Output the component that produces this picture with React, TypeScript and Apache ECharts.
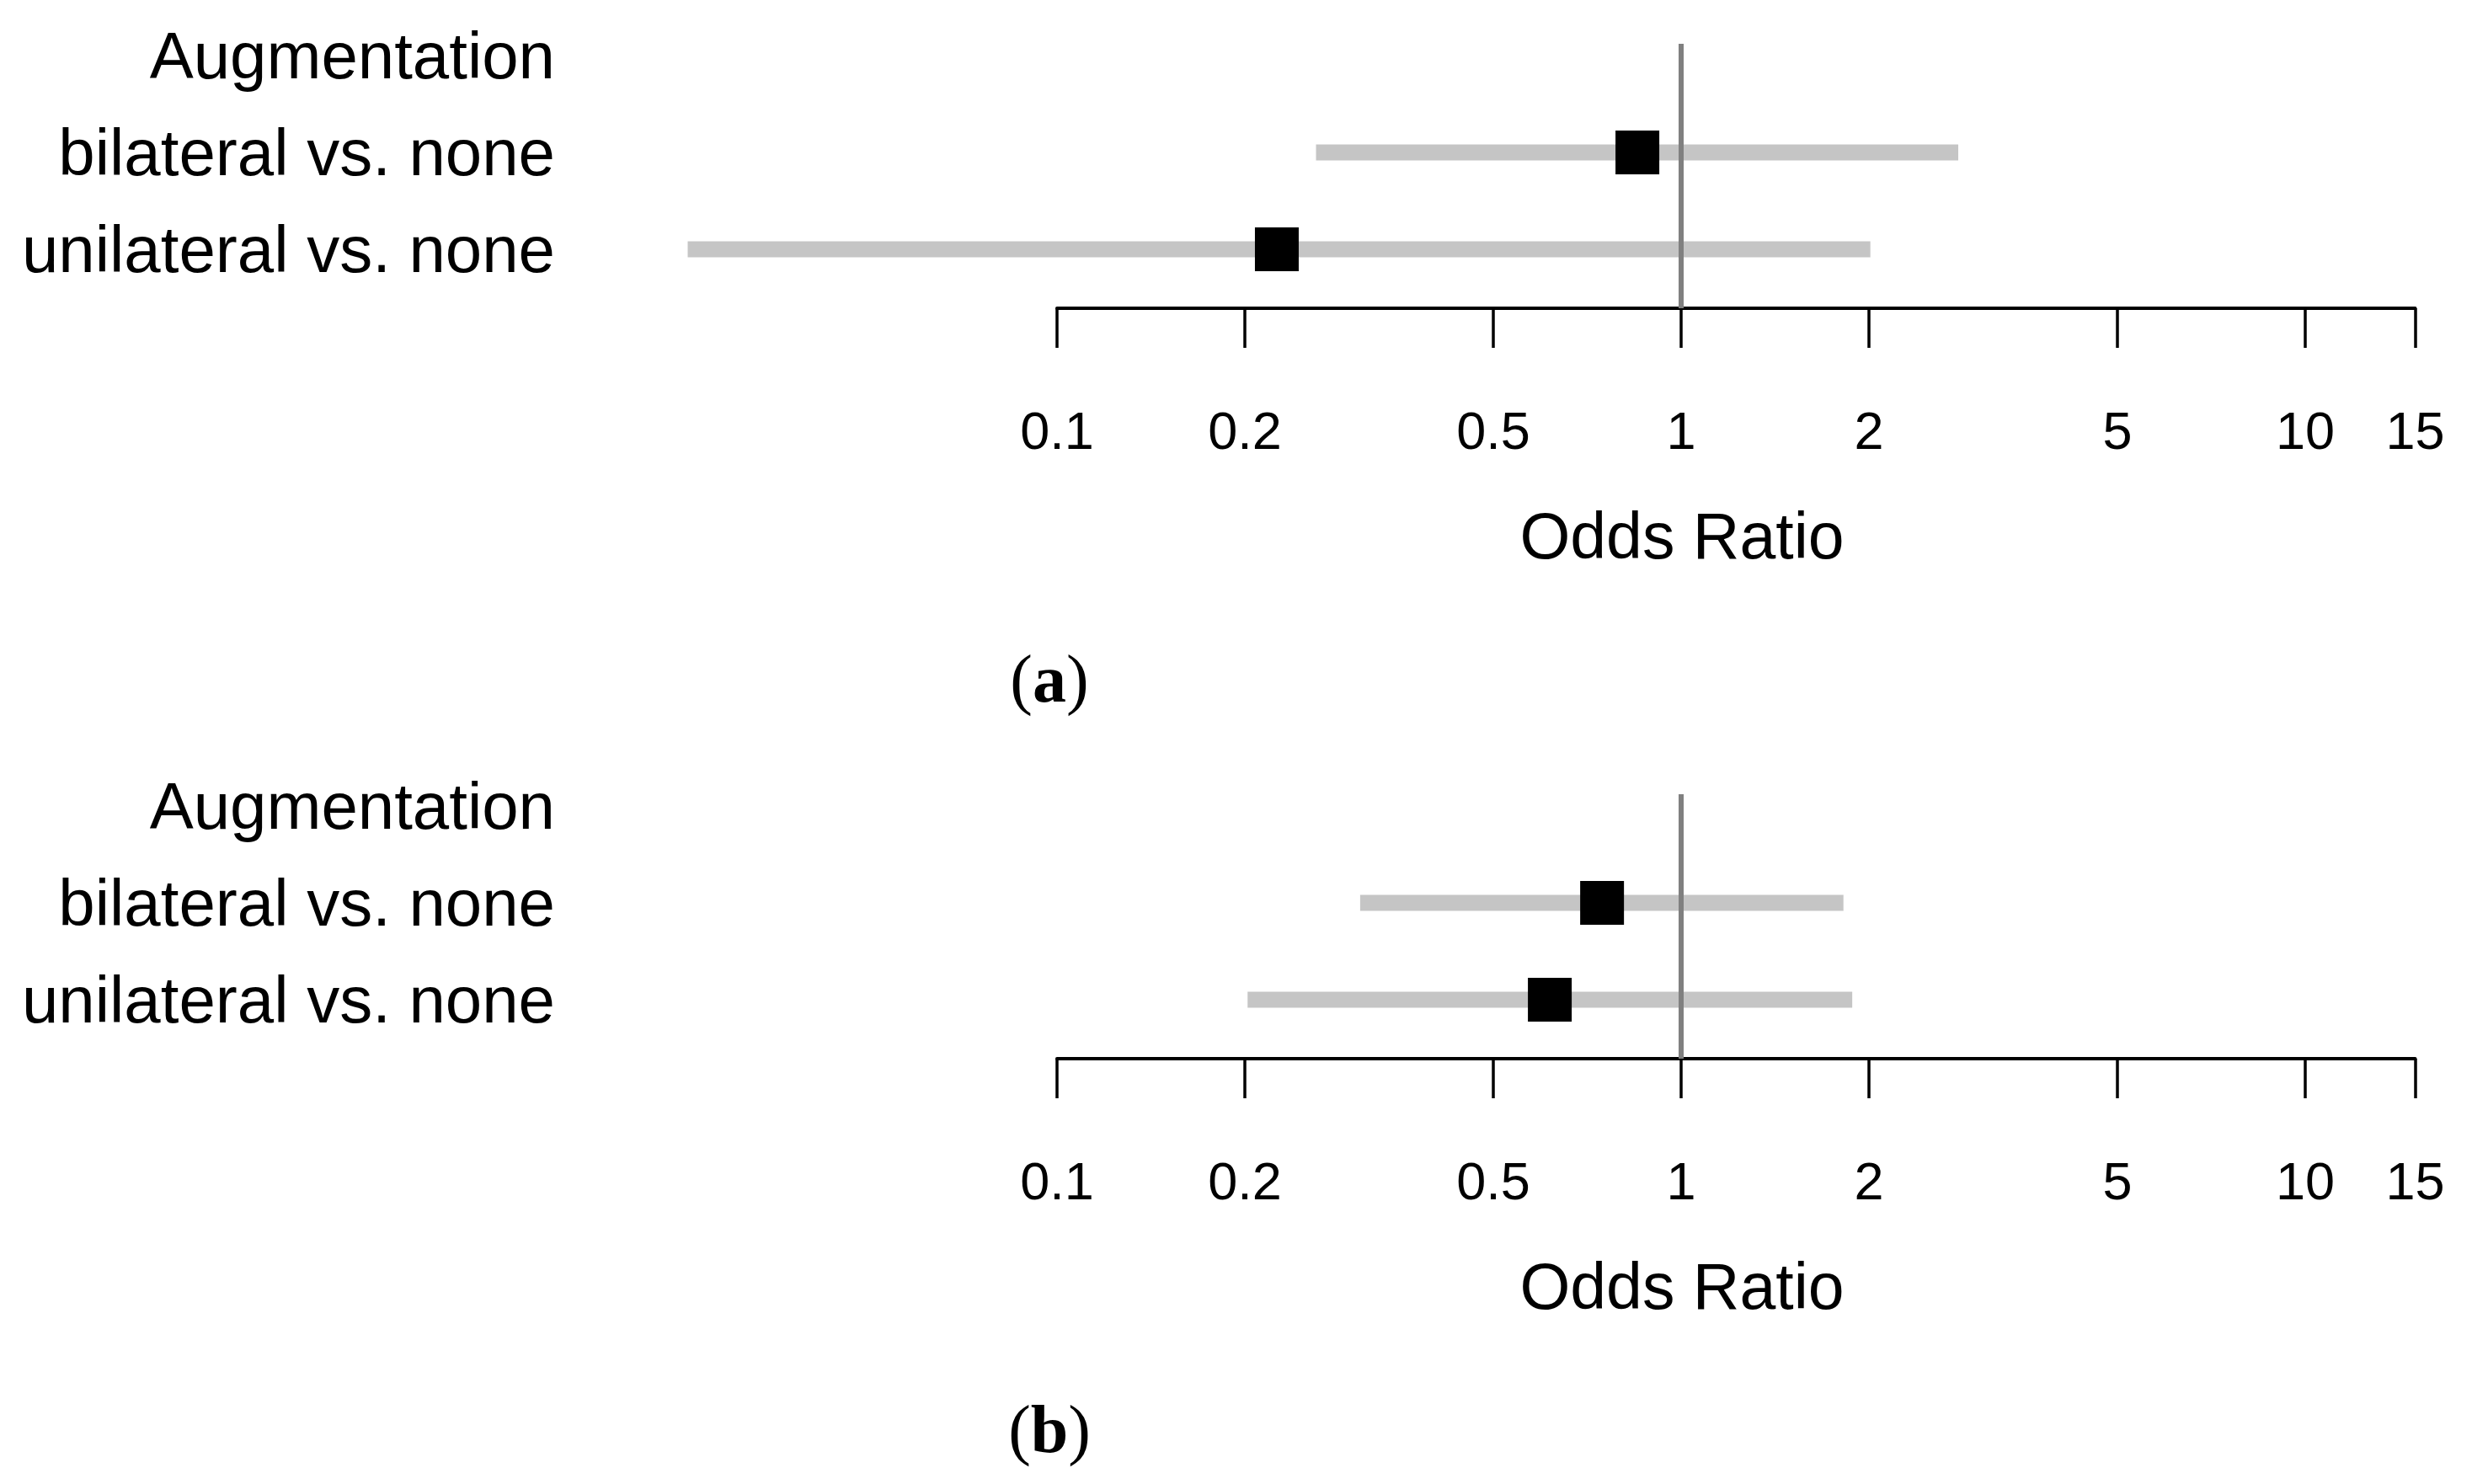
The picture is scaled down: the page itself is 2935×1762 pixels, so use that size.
import React, { useEffect, useRef } from "react";
import * as echarts from "echarts";

const rowLabels = ["Augmentation", "bilateral vs. none", "unilateral vs. none"];
const tickValues = [0.1, 0.2, 0.5, 1, 2, 5, 10, 15];
const tickLabels = ["0.1", "0.2", "0.5", "1", "2", "5", "10", "15"];
const panelNames = ["a", "b"];
// rows: [rowIndex, lower CI, estimate, upper CI]
const panelA_rows = [1, 2];
const panelA_lower = [0.26, 0.0256];
const panelA_est = [0.851, 0.225];
const panelA_upper = [2.78, 2.01];
const panelB_rows = [1, 2];
const panelB_lower = [0.306, 0.202];
const panelB_est = [0.747, 0.616];
const panelB_upper = [1.82, 1.88];

const FONT = '"Liberation Sans", Arial, Helvetica, sans-serif';
const SERIF = '"Liberation Serif", "Times New Roman", serif';
const W = 2935;
const H = 1762;
const PX_PER_DECADE = 741;
const X_ONE = 1996; // pixel of OR=1
const X_MIN = -1.7;
const X_MAX = Math.log10(15);
const ROW_H = 115;
const PANEL_OFFSET = 891;
const ROW0_Y = 66;
const AXIS_Y = 366;
const Y_MIN = -0.5;
const Y_AXIS = (AXIS_Y - ROW0_Y) / ROW_H;
const VLINE_TOP = (52 - ROW0_Y) / ROW_H;

function labelFor(v: number) {
  let best = 0;
  let bd = Infinity;
  tickValues.forEach((t, i) => {
    const d = Math.abs(Math.log10(t) - v);
    if (d < bd) {
      bd = d;
      best = i;
    }
  });
  return tickLabels[best];
}

export default function App() {
  const ref = useRef<HTMLDivElement>(null);
  useEffect(() => {
    if (!ref.current) return;
    const chart = echarts.init(ref.current, null, { renderer: "svg" });
    const panels = [
      { rows: panelA_rows, lo: panelA_lower, est: panelA_est, hi: panelA_upper },
      { rows: panelB_rows, lo: panelB_lower, est: panelB_est, hi: panelB_upper },
    ];
    const grids: any[] = [];
    const xAxes: any[] = [];
    const yAxes: any[] = [];
    const series: any[] = [];
    const graphics: any[] = [];
    const gridLeftData = X_ONE + PX_PER_DECADE * X_MIN;
    const gridLeftAxis = X_ONE - PX_PER_DECADE;
    const gridRight = W - (X_ONE + PX_PER_DECADE * X_MAX);
    panels.forEach((p, pi) => {
      const off = pi * PANEL_OFFSET;
      const top = ROW0_Y + off + Y_MIN * ROW_H;
      const bottom = H - (AXIS_Y + off);
      grids.push({ left: gridLeftData, right: gridRight, top, bottom, containLabel: false });
      grids.push({ left: gridLeftAxis, right: gridRight, top, bottom, containLabel: false });
      const gi = pi * 2;
      xAxes.push({
        type: "value",
        gridIndex: gi,
        min: X_MIN,
        max: X_MAX,
        show: false,
      });
      xAxes.push({
        type: "value",
        gridIndex: gi + 1,
        position: "bottom",
        min: -1,
        max: X_MAX,
        axisLine: { show: true, onZero: false, lineStyle: { color: "#000", width: 4 } },
        axisTick: {
          show: true,
          inside: false,
          length: 47,
          lineStyle: { color: "#000", width: 3.5 },
          customValues: tickValues.map((t) => Math.log10(t)),
        },
        axisLabel: {
          show: true,
          customValues: tickValues.map((t) => Math.log10(t)),
          formatter: (v: number) => labelFor(v),
          margin: 113,
          fontSize: 63,
          fontFamily: FONT,
          color: "#000",
        },
        splitLine: { show: false },
      });
      yAxes.push({
        type: "value",
        gridIndex: gi,
        inverse: true,
        min: Y_MIN,
        max: Y_AXIS,
        axisLine: { show: false },
        axisTick: { show: false },
        splitLine: { show: false },
        axisLabel: {
          show: true,
          customValues: [0, 1, 2],
          formatter: (v: number) => rowLabels[Math.round(v)] ?? "",
          margin: gridLeftData - 659,
          fontSize: 78,
          fontFamily: FONT,
          color: "#000",
          align: "right",
        },
      });
      yAxes.push({
        type: "value",
        gridIndex: gi + 1,
        inverse: true,
        min: Y_MIN,
        max: Y_AXIS,
        show: false,
      });
      series.push({
        type: "line",
        xAxisIndex: gi,
        yAxisIndex: gi,
        data: [
          [0, VLINE_TOP],
          [0, Y_AXIS],
        ],
        symbol: "none",
        silent: true,
        lineStyle: { color: "#808080", width: 6 },
      });
      series.push({
        type: "custom",
        xAxisIndex: gi,
        yAxisIndex: gi,
        clip: false,
        silent: true,
        data: p.rows.map((r, i) => [
          r,
          Math.log10(p.lo[i]),
          Math.log10(p.est[i]),
          Math.log10(p.hi[i]),
        ]),
        encode: { x: [1, 2, 3], y: 0 },
        renderItem: (params: any, api: any) => {
          const row = api.value(0);
          const pLo = api.coord([api.value(1), row]);
          const pE = api.coord([api.value(2), row]);
          const pHi = api.coord([api.value(3), row]);
          return {
            type: "group",
            children: [
              {
                type: "rect",
                shape: { x: pLo[0], y: pLo[1] - 9.5, width: pHi[0] - pLo[0], height: 19 },
                style: { fill: "rgba(178,178,178,0.75)" },
              },
              {
                type: "rect",
                shape: { x: pE[0] - 26, y: pE[1] - 26, width: 52, height: 52 },
                style: { fill: "#000" },
              },
            ],
          };
        },
      });
      graphics.push({
        type: "text",
        x: X_ONE + 1,
        y: 636 + off,
        style: {
          text: "Odds Ratio",
          fontSize: 77,
          fontFamily: FONT,
          fill: "#000",
          align: "center",
          verticalAlign: "middle",
        },
      });
      graphics.push({
        type: "text",
        x: 1246,
        y: 806 + off,
        style: {
          text: "{p|(}{b|" + panelNames[pi] + "}{p|)}",
          align: "center",
          verticalAlign: "middle",
          rich: {
            p: { fontSize: 80, fontFamily: SERIF, fill: "#000" },
            b: { fontSize: 80, fontWeight: "bold", fontFamily: SERIF, fill: "#000" },
          },
        },
      });
    });
    chart.setOption({
      animation: false,
      backgroundColor: "#fff",
      grid: grids,
      xAxis: xAxes,
      yAxis: yAxes,
      series,
      graphic: graphics,
    });
    return () => chart.dispose();
  }, []);
  return (
    <div
      ref={ref}
      style={{ position: "fixed", left: 0, top: 0, width: W, height: H, background: "#fff" }}
    />
  );
}
